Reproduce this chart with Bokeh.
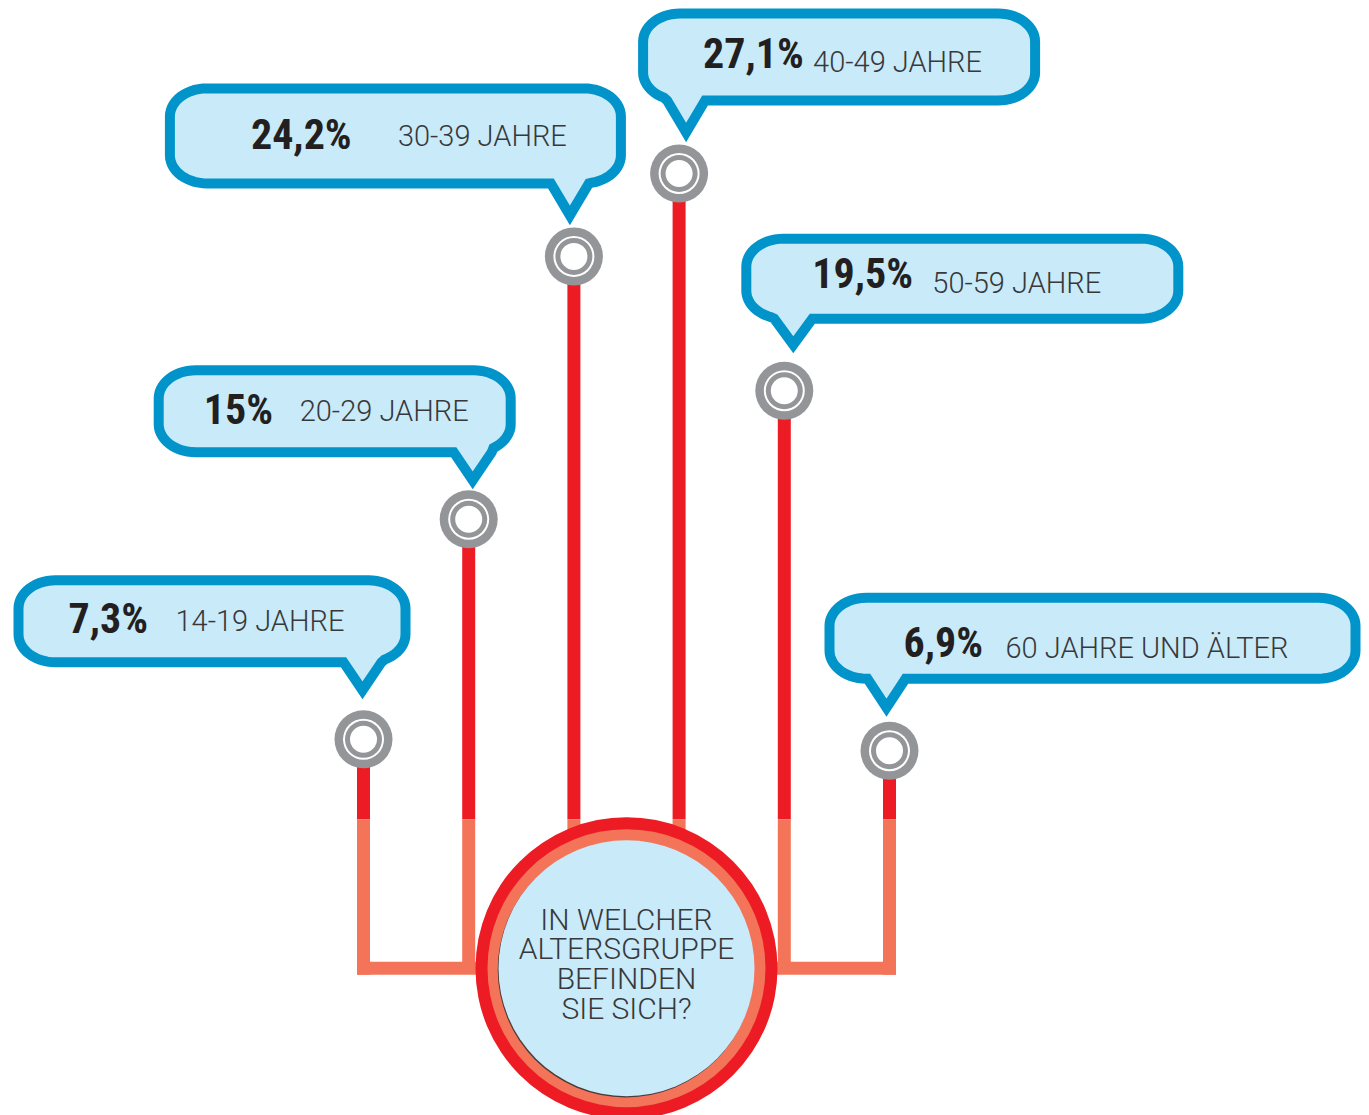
import math
from bokeh.plotting import figure
from bokeh.models import Range1d
from bokeh.embed import file_html
from bokeh.resources import INLINE
from bokeh.core.properties import value

# ---------------- data ----------------
age_groups = ["14-19 JAHRE", "20-29 JAHRE", "30-39 JAHRE",
              "40-49 JAHRE", "50-59 JAHRE", "60 JAHRE UND ÄLTER"]
shares = [7.3, 15.0, 24.2, 27.1, 19.5, 6.9]
question = ["IN WELCHER", "ALTERSGRUPPE", "BEFINDEN", "SIE SICH?"]


def fmt_pct(v):
    s = f"{v:.1f}".replace(".", ",")
    if s.endswith(",0"):
        s = s[:-2]
    return s + "%"


share_labels = [fmt_pct(v) for v in shares]

# ---------------- style ----------------
RED = "#ed1c24"
SALMON = "#f37459"
GREY = "#939598"
BLUE = "#0094ca"
PALE = "#c8eaf9"
INK = "#231f20"
TXT = "#38383a"
PCT_FONT = value("Roboto Condensed, Open Sans Condensed, Roboto")
LBL_FONT = value("Roboto Light, Roboto")

W, H = 1369, 1115
SX = 105.2      # px per slot
SY = 28.575     # px per percentage point
X0 = -363 / SX
Y1 = 947.4 / SY

p = figure(width=W, height=H,
           x_range=Range1d(X0, X0 + W / SX),
           y_range=Range1d(Y1 - H / SY, Y1),
           output_backend="svg", toolbar_location=None,
           x_axis_location=None, y_axis_location=None, min_border=0)
p.grid.visible = False
p.outline_line_color = None
p.background_fill_color = "white"
p.border_fill_color = "white"


def px_x(u):
    return (u - X0) * SX


def px_y(v):
    return (Y1 - v) * SY


def dx(px):
    return X0 + px / SX


def dy(py):
    return Y1 - py / SY


n = len(shares)
xs = list(range(n))
hub_x = (n - 1) / 2.0
hub_y = -0.71
SPLIT = 4.5
STEM_W = 13
hw_x = (STEM_W / 2) / SX
hw_y = (STEM_W / 2) / SY

# baseline correction (px) for the SVG text renderer
LBL_SHIFT = -12
PCT_SHIFT = -14

# ---------------- stems ----------------
p.segment(x0=xs, y0=shares, x1=xs, y1=[SPLIT] * n,
          line_color=RED, line_width=STEM_W, line_cap="butt")
bottoms = [hub_y - hw_y if i in (0, n - 1) else hub_y for i in xs]
p.segment(x0=xs, y0=[SPLIT] * n, x1=xs, y1=bottoms,
          line_color=SALMON, line_width=STEM_W, line_cap="butt")
p.segment(x0=[0 - hw_x, hub_x], y0=[hub_y, hub_y],
          x1=[hub_x, n - 1 + hw_x], y1=[hub_y, hub_y],
          line_color=SALMON, line_width=STEM_W, line_cap="butt")

# ---------------- hub ----------------
p.scatter(x=[hub_x], y=[hub_y], size=302, fill_color=RED, line_color=None)
p.scatter(x=[hub_x], y=[hub_y], size=278, fill_color=SALMON, line_color=None)
p.scatter(x=[hub_x - 0.8 / SX], y=[hub_y - 1.2 / SY], size=256,
          fill_color="#4a3a38", line_color=None)
p.scatter(x=[hub_x], y=[hub_y], size=256, fill_color=PALE, line_color=None)

hub_py = px_y(hub_y)
q_offsets = [-37, -8, 22, 52]
p.text(x=[hub_x] * len(question), y=[dy(hub_py + o + LBL_SHIFT) for o in q_offsets],
       text=question, text_align="center", text_baseline="alphabetic",
       text_font=LBL_FONT, text_font_size="30px", text_color=TXT)

# ---------------- dots ----------------
p.scatter(x=xs, y=shares, size=58, fill_color=GREY, line_color=None)
p.scatter(x=xs, y=shares, size=41, fill_color="white", line_color=None)
p.scatter(x=xs, y=shares, size=37, fill_color=GREY, line_color=None)
p.scatter(x=xs, y=shares, size=27, fill_color="white", line_color=None)

# ---------------- bubbles (layout in px, relative to each dot) ----------------
BUBBLES = [
    dict(l=-350, r=47, gap=41, tail=31, h=92, tip=-1, pdx=55, ldx=162, pb=57, lb=58),
    dict(l=-315, r=47, gap=31, tail=31, h=92, tip=4, pdx=50, ldx=146, pb=58, lb=58),
    dict(l=-409, r=52, gap=33, tail=35, h=105, tip=-4, pdx=86, ldx=233, pb=65, lb=65),
    dict(l=-41, r=361, gap=33, tail=35, h=97, tip=7, pdx=65, ldx=175, pb=59, lb=65),
    dict(l=-43, r=399, gap=38, tail=29, h=90, tip=9, pdx=71, ldx=191, pb=54, lb=61),
    dict(l=-65, r=471, gap=35, tail=32, h=91, tip=-3, pdx=79, ldx=181, pb=64, lb=67),
]
STROKE = 10
HS = STROKE / 2


def bubble_path(L, T, R, B, tx, ty, rx, ry, hw, steps=14):
    def arc(cx, cy, a0, a1):
        out = []
        for k in range(steps + 1):
            t = math.radians(a0 + (a1 - a0) * k / steps)
            out.append((cx + rx * math.cos(t), cy + ry * math.sin(t)))
        return out

    pts = []
    pts += arc(L + rx, T + ry, 180, 270)
    pts += arc(R - rx, T + ry, 270, 360)
    pts += arc(R - rx, B - ry, 0, 90)
    pts += arc(L + rx, B - ry, 90, 180)
    mid = (T + B) / 2
    res = []
    inserted = False
    for (x, y) in pts:
        if y > mid and (tx - hw) < x < (tx + hw):
            if not inserted:
                res += [(tx + hw, B), (tx, ty), (tx - hw, B)]
                inserted = True
            continue
        if y > mid and not inserted and x <= tx - hw:
            res += [(tx + hw, B), (tx, ty), (tx - hw, B)]
            inserted = True
        res.append((x, y))
    return res


pct_x, pct_y, lbl_x, lbl_y = [], [], [], []
for i, b in enumerate(BUBBLES):
    sx = px_x(xs[i])
    sy = px_y(shares[i])
    tip_y = sy - b["gap"]
    out_bottom = tip_y - b["tail"]
    out_top = out_bottom - b["h"]
    out_left = sx + b["l"]
    out_right = sx + b["r"]
    L, R = out_left + HS, out_right - HS
    T, B = out_top + HS, out_bottom - HS
    path = bubble_path(L, T, R, B, sx + b["tip"], tip_y - 8, 37, min(28, (B - T) / 2), 19)
    p.patch([dx(x) for x, _ in path], [dy(y) for _, y in path],
            fill_color=PALE, line_color=BLUE, line_width=STROKE, line_join="miter")
    pct_x.append(dx(out_left + b["pdx"]))
    pct_y.append(dy(out_top + b["pb"] + PCT_SHIFT))
    lbl_x.append(dx(out_left + b["ldx"]))
    lbl_y.append(dy(out_top + b["lb"] + LBL_SHIFT))

p.text(x=pct_x, y=pct_y, text=share_labels, text_align="left",
       text_baseline="alphabetic", text_font=PCT_FONT, text_font_style="bold",
       text_font_size="42px", text_color=INK)
p.text(x=lbl_x, y=lbl_y, text=age_groups, text_align="left",
       text_baseline="alphabetic", text_font=LBL_FONT,
       text_font_size="29px", text_color=TXT)

open("out.html", "w", encoding="utf-8").write(file_html(p, INLINE))
